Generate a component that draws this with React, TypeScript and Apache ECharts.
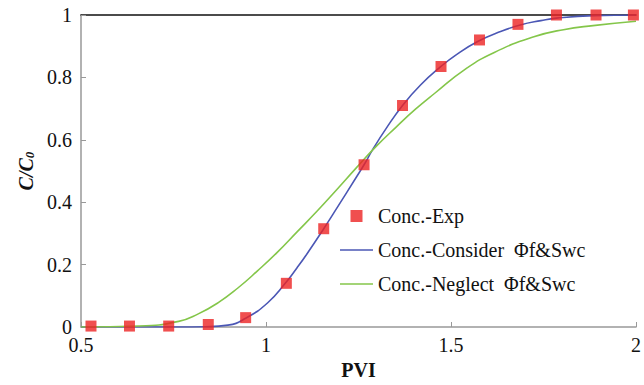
import React, { useEffect, useRef } from "react";
import * as echarts from "echarts";

const expX = [0.527, 0.631, 0.737, 0.844, 0.945, 1.055, 1.156, 1.265, 1.369, 1.473, 1.577, 1.681, 1.785, 1.892, 1.993];
const expY = [0.003, 0.003, 0.003, 0.008, 0.03, 0.14, 0.315, 0.52, 0.71, 0.835, 0.92, 0.97, 1.0, 1.0, 1.0];

const considerX = [0.5, 0.764, 0.836, 0.897, 0.945, 1.004, 1.052, 1.084, 1.111, 1.156, 1.191, 1.244, 1.265, 1.289, 1.324, 1.369, 1.417, 1.473, 1.511, 1.572, 1.636, 1.687, 1.743, 1.785, 1.884, 2.0];
const considerY = [0, 0.0, 0.001, 0.006, 0.028, 0.077, 0.14, 0.19, 0.235, 0.315, 0.38, 0.48, 0.52, 0.57, 0.635, 0.71, 0.775, 0.835, 0.87, 0.915, 0.948, 0.968, 0.982, 0.99, 0.998, 1.0];

const neglectX = [0.5, 0.657, 0.764, 0.817, 0.871, 0.924, 0.977, 1.031, 1.084, 1.137, 1.191, 1.244, 1.297, 1.351, 1.404, 1.457, 1.537, 1.617, 1.724, 1.804, 1.884, 2.0];
const neglectY = [0, 0.003, 0.018, 0.042, 0.078, 0.125, 0.18, 0.24, 0.305, 0.37, 0.44, 0.51, 0.578, 0.64, 0.698, 0.75, 0.825, 0.88, 0.93, 0.953, 0.966, 0.98];

const seriesNames = ["Conc.-Exp", "Conc.-Consider  Φf&Swc", "Conc.-Neglect  Φf&Swc"];

const zip = (xs: number[], ys: number[]) => xs.map((x, i) => [x, ys[i]]);

export default function App() {
  const ref = useRef<HTMLDivElement>(null);
  useEffect(() => {
    document.body.style.margin = "0";
    const chart = echarts.init(ref.current!, null, { renderer: "svg" });
    const font = "Liberation Serif";
    const lineIcon = "path://M0,0h33v1.6h-33z";
    chart.setOption({
      animation: false,
      backgroundColor: "#ffffff",
      textStyle: { fontFamily: font },
      grid: { left: 81, right: 3, top: 15, bottom: 58 },
      legend: {
        orient: "vertical",
        left: 335,
        top: 201,
        itemGap: 14,
        itemWidth: 33,
        itemHeight: 12,
        textStyle: { fontFamily: font, fontSize: 20, color: "#111" },
        data: [
          { name: seriesNames[0], icon: "path://M0,0h10v10h-10z" },
          { name: seriesNames[1], icon: lineIcon },
          { name: seriesNames[2], icon: lineIcon },
        ],
      },
      xAxis: [
        {
          type: "value",
          min: 0.5,
          max: 2,
          interval: 0.5,
          axisLine: { lineStyle: { color: "#999", width: 1.5 } },
          axisTick: { inside: true, length: 5, lineStyle: { color: "#999" } },
          splitLine: { show: false },
          axisLabel: { fontFamily: font, fontSize: 20, color: "#111", margin: 8 },
          name: "PVI",
          nameLocation: "middle",
          nameGap: 30,
          nameTextStyle: { fontFamily: font, fontSize: 20, fontWeight: "bold", color: "#111" },
        },
        {
          type: "value",
          position: "top",
          min: 0.5,
          max: 2,
          axisLine: { show: true, lineStyle: { color: "#111", width: 1.5 } },
          axisTick: { show: false },
          axisLabel: { show: false },
          splitLine: { show: false },
        },
      ],
      yAxis: {
        type: "value",
        min: 0,
        max: 1,
        interval: 0.2,
        axisLine: { show: true, lineStyle: { color: "#999", width: 1.5 } },
        axisTick: { show: true, inside: true, length: 5, lineStyle: { color: "#999" } },
        splitLine: { show: false },
        axisLabel: { fontFamily: font, fontSize: 20, color: "#111", margin: 9 },
        name: "{i|C/C}{s|0}",
        nameLocation: "middle",
        nameGap: 44,
        nameRotate: 90,
        nameTextStyle: {
          rich: {
            i: { fontFamily: font, fontSize: 20, fontWeight: "bold", fontStyle: "italic", color: "#111" },
            s: { fontFamily: font, fontSize: 13, fontWeight: "bold", fontStyle: "italic", color: "#111", verticalAlign: "bottom", padding: [8, 0, 0, 0] },
          },
        },
      },
      series: [
        {
          name: seriesNames[1],
          type: "line",
          data: zip(considerX, considerY),
          smooth: 0.5,
          symbol: "none",
          lineStyle: { color: "#4b57b5", width: 1.6 },
          itemStyle: { color: "#4b57b5" },
          z: 2,
        },
        {
          name: seriesNames[2],
          type: "line",
          data: zip(neglectX, neglectY),
          smooth: 0.5,
          symbol: "none",
          lineStyle: { color: "#84c64a", width: 1.6 },
          itemStyle: { color: "#84c64a" },
          z: 2,
        },
        {
          name: seriesNames[0],
          type: "scatter",
          data: zip(expX, expY),
          symbol: "rect",
          symbolSize: 11,
          itemStyle: { color: "#ec2323" },
          z: 5,
        },
      ],
    });
    return () => chart.dispose();
  }, []);
  return <div ref={ref} style={{ width: 644, height: 385 }} />;
}
